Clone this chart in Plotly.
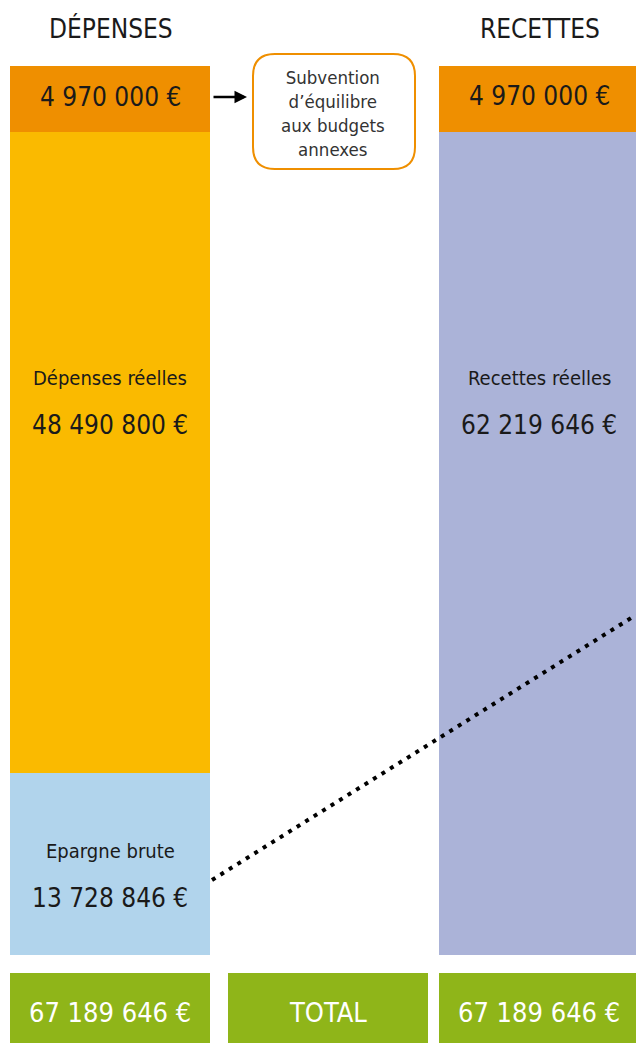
import plotly.graph_objects as go

# data
columns = ["DÉPENSES", "RECETTES"]
subvention = [4970000, 4970000]
depenses_reelles = [48490800]
epargne_brute = [13728846]
recettes_reelles = [62219646]
totals = [67189646, 67189646]
total_word = "TOTAL"
box_lines = ["Subvention", "d’équilibre", "aux budgets", "annexes"]
# dotted link (euros) from the savings block edge to the right border
link_y = [5670000, 25700000]

# layout constants (pixels)
W, H = 636, 1043
BAR_W = 200
X_DEP, X_MID, X_REC = 110, 328, 539
BASE_PX, TOP_PX = 955, 66
FONT = "Liberation Sans Narrow, DejaVu Sans Condensed, Roboto, sans-serif"

ORANGE = "#EF8F00"
YELLOW = "#FABA00"
BLUE = "#B1D4EC"
PURPLE = "#ABB3D8"
GREEN = "#8FB519"
INK = "#1a1a1a"


def py(p):
    return 1 - p / H


def euros(v):
    return f"{v:,}".replace(",", " ") + " €"


fig = go.Figure()

fig.add_trace(go.Bar(x=[X_DEP], y=epargne_brute, width=BAR_W, marker_color=BLUE, name="Epargne brute"))
fig.add_trace(go.Bar(x=[X_DEP], y=depenses_reelles, width=BAR_W, marker_color=YELLOW, name="Dépenses réelles"))
fig.add_trace(go.Bar(x=[X_REC], y=recettes_reelles, width=BAR_W, marker_color=PURPLE, name="Recettes réelles"))
fig.add_trace(go.Bar(x=[X_DEP, X_REC], y=subvention, width=BAR_W, marker_color=ORANGE, name="Subvention"))

# total row
fig.add_trace(
    go.Bar(
        x=[X_DEP, X_MID, X_REC],
        y=[1, 1, 1],
        width=BAR_W,
        marker_color=GREEN,
        yaxis="y2",
        hoverinfo="skip",
    )
)

fig.add_trace(
    go.Scatter(
        x=[X_DEP + BAR_W / 2 + 2, W],
        y=link_y,
        mode="lines",
        line=dict(color="black", width=4, dash="4px,6px"),
    )
)

fig.update_traces(marker_line_width=0, selector=dict(type="bar"))

total = totals[0]
fig.update_layout(
    width=W,
    height=H,
    margin=dict(l=0, r=0, t=0, b=0),
    paper_bgcolor="white",
    plot_bgcolor="rgba(0,0,0,0)",
    barmode="stack",
    showlegend=False,
    font=dict(family=FONT, color=INK),
    xaxis=dict(range=[0, W], visible=False, fixedrange=True),
    yaxis=dict(
        domain=[py(BASE_PX), 1],
        range=[0, total * BASE_PX / (BASE_PX - TOP_PX)],
        visible=False,
    ),
    yaxis2=dict(domain=[0, py(973)], range=[0, 1], visible=False),
)

ann = []
for x, t in zip([X_DEP + 1, X_REC + 1], columns):
    ann.append(dict(x=x, y=py(29), text=t, font=dict(size=26)))
ann.append(dict(x=X_DEP, y=py(97), text=euros(subvention[0]), font=dict(size=26)))
ann.append(dict(x=X_REC, y=py(96), text=euros(subvention[1]), font=dict(size=26)))
ann.append(dict(x=X_DEP, y=py(378), text="Dépenses réelles", font=dict(size=20)))
ann.append(dict(x=X_DEP, y=py(425), text=euros(depenses_reelles[0]), font=dict(size=26)))
ann.append(dict(x=X_REC, y=py(378), text="Recettes réelles", font=dict(size=20)))
ann.append(dict(x=X_REC, y=py(425), text=euros(recettes_reelles[0]), font=dict(size=26)))
ann.append(dict(x=X_DEP, y=py(851), text="Epargne brute", font=dict(size=20)))
ann.append(dict(x=X_DEP, y=py(898), text=euros(epargne_brute[0]), font=dict(size=26)))
ann.append(dict(x=333, y=py(114), text="<br>".join(box_lines), font=dict(size=18.5, color="#333333")))
for x, t in zip([X_DEP, X_MID, X_REC], [euros(totals[0]), total_word, euros(totals[1])]):
    ann.append(dict(x=x, y=py(1012), text=t, font=dict(size=27, color="white")))
for a in ann:
    a.update(xref="x", yref="paper", showarrow=False, xanchor="center", yanchor="middle")
ann.append(
    dict(
        x=247, y=py(97), xref="x", yref="paper", ax=-35, ay=0,
        text="", showarrow=True, arrowhead=2, arrowsize=1, arrowwidth=2.5,
        arrowcolor="black", standoff=0,
    )
)
fig.update_layout(annotations=ann)

# rounded box around the subsidy caption
x0, x1, y0, y1, r = 253, 415, 54, 169, 22
path = (
    f"M {x0 + r},{py(y0)} L {x1 - r},{py(y0)} Q {x1},{py(y0)} {x1},{py(y0 + r)} "
    f"L {x1},{py(y1 - r)} Q {x1},{py(y1)} {x1 - r},{py(y1)} "
    f"L {x0 + r},{py(y1)} Q {x0},{py(y1)} {x0},{py(y1 - r)} "
    f"L {x0},{py(y0 + r)} Q {x0},{py(y0)} {x0 + r},{py(y0)} Z"
)
fig.add_shape(type="path", path=path, xref="x", yref="paper", line=dict(color=ORANGE, width=2))

fig.write_html(
    "out.html",
    config={"displayModeBar": False},
    post_script="document.body.style.margin='0';document.body.style.overflow='hidden';",
)
